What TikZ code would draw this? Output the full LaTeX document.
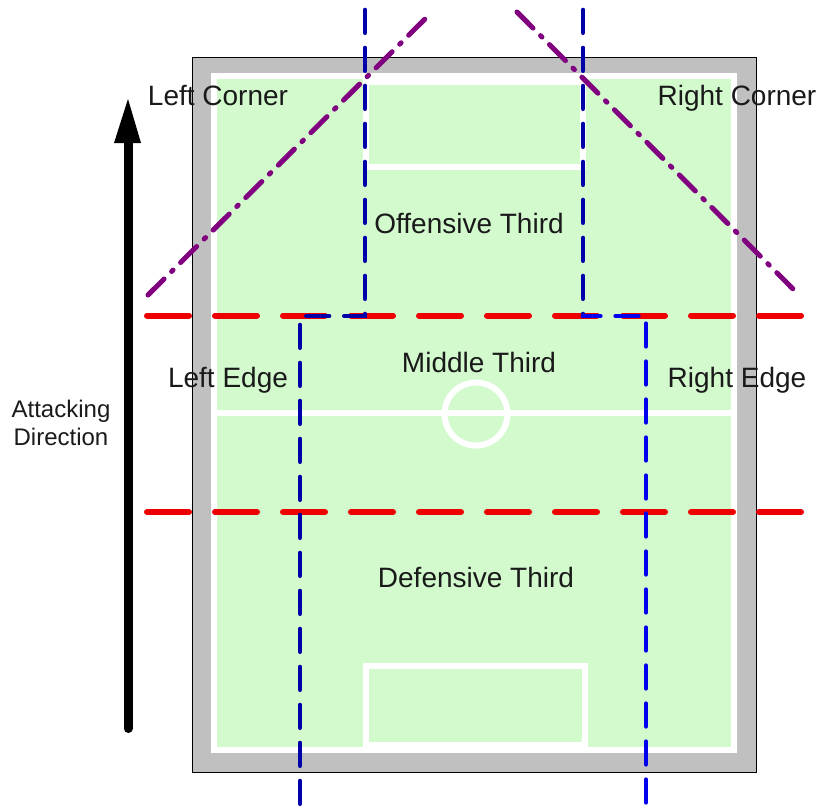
\documentclass[tikz,border=0pt]{standalone}
\usepackage{fontspec}
\setmainfont{Liberation Sans}
\definecolor{fgreen}{HTML}{D2FACD}
\definecolor{fgray}{HTML}{C0C0C0}
\definecolor{fred}{HTML}{EE0000}
\definecolor{fnavy}{HTML}{0000A8}
\definecolor{fblue}{HTML}{0000EE}
\definecolor{fpurple}{HTML}{800080}
\definecolor{ftext}{HTML}{1A1A1A}
\begin{document}
\begin{tikzpicture}[x=0.75pt,y=-0.75pt,
  lbl/.style={font=\fontsize{21}{25}\selectfont, inner sep=0pt, anchor=base, text=ftext},
  whiteline/.style={draw=white, line width=4.5pt},
  reddash/.style={draw=fred, line width=4.5pt, line cap=round, dash pattern=on 31.5pt off 19.5pt},
  bluedash/.style={line width=3.5pt, line cap=round, dash pattern=on 17pt off 11.5pt},
  purpledash/.style={draw=fpurple, line width=3.75pt, line cap=round, dash pattern=on 17pt off 8pt on 1.5pt off 8pt}]
\useasboundingbox (0,0) rectangle (820,808);
\fill[white] (0,0) rectangle (820,808);
% pitch surround and field
\draw[fill=fgray, draw=black, line width=1.1pt] (192.5,57.5) rectangle (756.5,772.5);
\draw[whiteline, fill=fgreen] (214,76) rectangle (734,750);
\draw[whiteline] (214,413) -- (734,413);
\draw[whiteline] (476,414) circle[radius=31.5];
\draw[whiteline] (366,82) rectangle (583,167);
\draw[whiteline] (366,666) rectangle (585,745);
% thirds
\coordinate (r1a) at (147,315.5); \coordinate (r1b) at (801,315.5);
\coordinate (r2a) at (147,512);   \coordinate (r2b) at (801,512);
\draw[reddash] (r1a) -- (r1b);
\draw[reddash] (r2a) -- (r2b);
% channels
\coordinate (b1) at (365,10);  \coordinate (b2) at (365,316);
\coordinate (b3) at (300,316); \coordinate (b4) at (300,808);
\coordinate (c1) at (583,10);  \coordinate (c2) at (583,316);
\coordinate (c3) at (646,316); \coordinate (c4) at (646,808);
\draw[bluedash, draw=fnavy] (b1) -- (b2) -- (b3) -- (b4);
\draw[bluedash, draw=fnavy] (c1) -- (c2);
\draw[bluedash, draw=fblue, dash phase=4pt] (c2) -- (c3) -- (c4);
% corners
\coordinate (p1) at (148,295); \coordinate (p2) at (432,12);
\coordinate (q1) at (517,12);  \coordinate (q2) at (799,295);
\draw[purpledash] (p1) -- (p2);
\draw[purpledash] (q1) -- (q2);
% attacking direction arrow
\coordinate (as) at (128,728.5); \coordinate (ae) at (128,140);
\draw[line width=6.75pt, line cap=round] (as) -- (ae);
\fill (128,99) -- (141,143) -- (114,143) -- cycle;
% labels
\node[lbl] (lc) at (218,105) {Left Corner};
\node[lbl] (rc) at (737,105) {Right Corner};
\node[lbl] (off) at (469,233) {Offensive Third};
\node[lbl] (mid) at (479,372) {Middle Third};
\node[lbl] (le) at (228,387) {Left Edge};
\node[lbl] (re) at (737,387) {Right Edge};
\node[lbl] (def) at (476,587) {Defensive Third};
\node[lbl, font=\fontsize{18}{21}\selectfont, align=center] (ad) at (61,445) {Attacking\\Direction};
\end{tikzpicture}
\end{document}
